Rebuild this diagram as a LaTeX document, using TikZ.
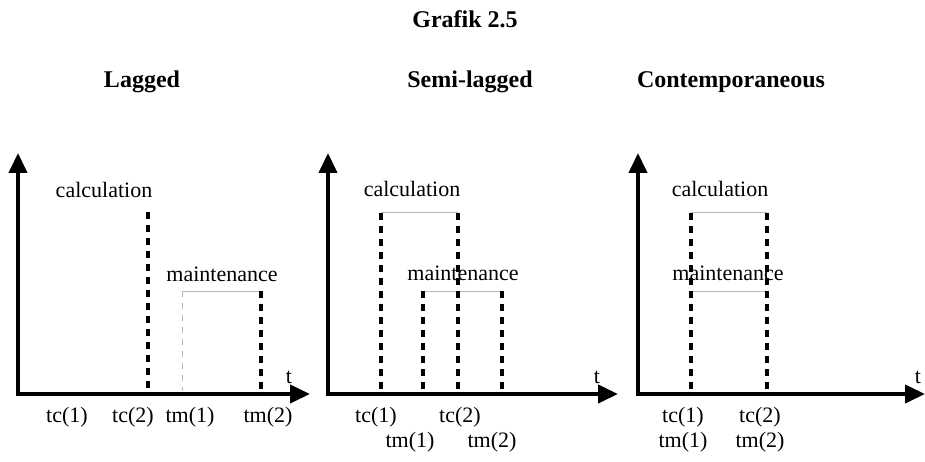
\documentclass[tikz,border=0pt]{standalone}
\usepackage{fontspec}
\setmainfont{Liberation Serif}
\usetikzlibrary{arrows.meta}
\tikzset{
  axis/.style={line width=4pt, line join=miter, {Triangle[length=20pt,width=18pt]}-{Triangle[length=20pt,width=18pt]}},
  dline/.style={line width=3.5pt, dash pattern=on 7pt off 6pt},
  gline/.style={line width=1pt, color=black!28},
  gdash/.style={line width=1pt, color=black!28, dash pattern=on 6pt off 6pt},
  lbl/.style={font=\fontsize{22}{24}\selectfont, inner sep=0pt, anchor=base},
  ttl/.style={font=\fontsize{24}{26}\selectfont\bfseries, inner sep=0pt, anchor=base}
}
\begin{document}
\begin{tikzpicture}[x=1pt,y=-1pt]
\useasboundingbox (0,0) rectangle (925,462);
% titles
\node[ttl] (title) at (465,28) {Grafik 2.5};
\node[ttl] (h1) at (142,88) {Lagged};
\node[ttl] (h2) at (470,88) {Semi-lagged};
\node[ttl] (h3) at (731,88) {Contemporaneous};

% ---------- panel 1 ----------
\coordinate (v1) at (18,153);
\coordinate (o1) at (18,394);
\coordinate (e1) at (310,394);
\draw[axis] (v1) -- (o1) -- (e1);
\coordinate (a1t) at (148,212); \coordinate (a1b) at (148,391);
\coordinate (b1t) at (182,291); \coordinate (b1b) at (182,391);
\coordinate (c1t) at (261,291); \coordinate (c1b) at (261,391);
\draw[gdash] (b1t) -- (b1b);
\draw[gline] (b1t) -- (c1t);
\draw[dline] (a1t) -- (a1b);
\draw[dline] (c1t) -- (c1b);
\node[lbl] (calc1) at (104,198) {calculation};
\node[lbl] (main1) at (222,281) {maintenance};
\node[lbl] (t1) at (289,383) {t};
\node[lbl] (tc11) at (67,422) {tc(1)};
\node[lbl] (tc12) at (133,422) {tc(2)};
\node[lbl] (tm11) at (190,422) {tm(1)};
\node[lbl] (tm12) at (268,422) {tm(2)};

% ---------- panel 2 ----------
\coordinate (v2) at (328,153);
\coordinate (o2) at (328,394);
\coordinate (e2) at (618,394);
\draw[axis] (v2) -- (o2) -- (e2);
\coordinate (a2t) at (381,213); \coordinate (a2b) at (381,391);
\coordinate (b2t) at (458,213); \coordinate (b2b) at (458,391);
\coordinate (c2t) at (423,291); \coordinate (c2b) at (423,391);
\coordinate (d2t) at (502,291); \coordinate (d2b) at (502,391);
\draw[gline] (a2t) -- (b2t);
\draw[gline] (c2t) -- (d2t);
\draw[dline] (a2t) -- (a2b);
\draw[dline] (b2t) -- (b2b);
\draw[dline] (c2t) -- (c2b);
\draw[dline] (d2t) -- (d2b);
\node[lbl] (calc2) at (412,197) {calculation};
\node[lbl] (main2) at (463,280) {maintenance};
\node[lbl] (t2) at (597,383) {t};
\node[lbl] (tc21) at (376,422) {tc(1)};
\node[lbl] (tc22) at (460,422) {tc(2)};
\node[lbl] (tm21) at (410,447) {tm(1)};
\node[lbl] (tm22) at (492,447) {tm(2)};

% ---------- panel 3 ----------
\coordinate (v3) at (638,153);
\coordinate (o3) at (638,394);
\coordinate (e3) at (925,394);
\draw[axis] (v3) -- (o3) -- (e3);
\coordinate (a3t) at (691,213); \coordinate (a3b) at (691,391);
\coordinate (b3t) at (767,213); \coordinate (b3b) at (767,391);
\coordinate (a3m) at (691,291); \coordinate (b3m) at (767,291);
\draw[gline] (a3t) -- (b3t);
\draw[gline] (a3m) -- (b3m);
\draw[dline] (a3t) -- (a3b);
\draw[dline] (b3t) -- (b3b);
\node[lbl] (calc3) at (720,197) {calculation};
\node[lbl] (main3) at (728,280) {maintenance};
\node[lbl] (t3) at (918,383) {t};
\node[lbl] (tc31) at (683,422) {tc(1)};
\node[lbl] (tc32) at (760,422) {tc(2)};
\node[lbl] (tm31) at (683,447) {tm(1)};
\node[lbl] (tm32) at (760,447) {tm(2)};
\end{tikzpicture}
\end{document}
